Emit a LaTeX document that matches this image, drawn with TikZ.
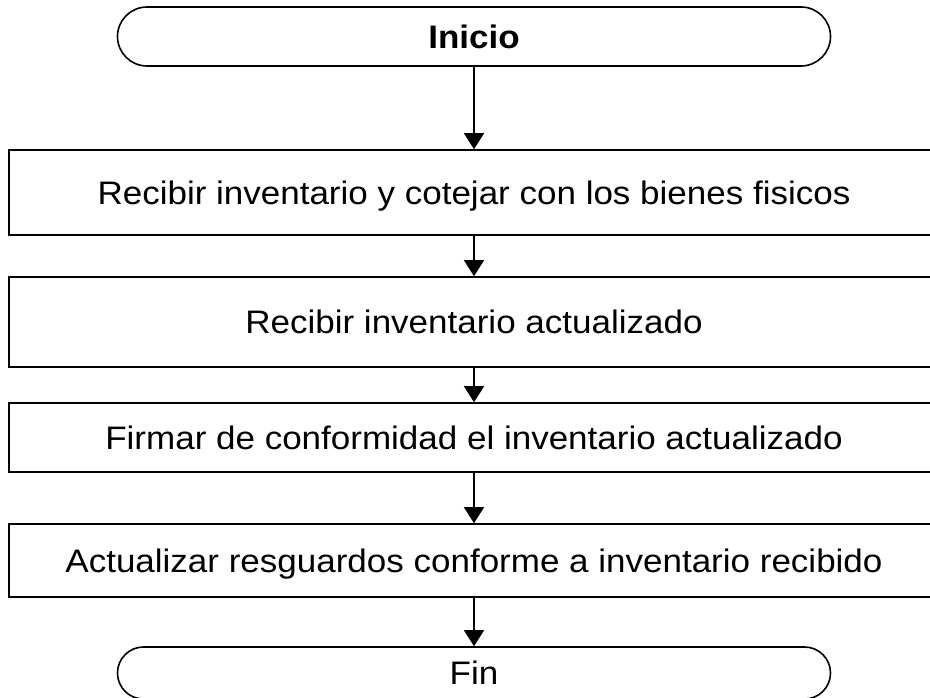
\documentclass[tikz,border=0pt]{standalone}
\usepackage{fontspec}
\usepackage{graphicx}
\setmainfont{Liberation Sans}
\usetikzlibrary{arrows.meta,shapes.misc}
\newcommand\sqz[1]{\scalebox{1}[0.93]{#1}}
\begin{document}
\begin{tikzpicture}[x=0.5bp,y=-0.5bp,
  every node/.style={font=\fontsize{17.5bp}{21bp}\selectfont},
  stepbox/.style={draw=black,line width=0.8bp,rectangle,minimum width=465bp,inner sep=0pt,text height=11.6bp,text depth=0pt},
  term/.style={draw=black,line width=0.8bp,rounded rectangle,minimum width=356.5bp,inner sep=0pt,text height=11.6bp,text depth=0pt},
  arr/.style={-{Triangle[length=8bp,width=10bp]},line width=0.8bp}]
\useasboundingbox (0,0) rectangle (930,698);
\clip (0,0) rectangle (930,698);
\fill[white] (0,0) rectangle (930,698);
\node[term, minimum height=29.5bp] (ini) at (474,36.5) {\sqz{\bfseries Inicio}};
\node[stepbox, minimum height=42.5bp] (b1) at (474,192.5) {\sqz{Recibir inventario y cotejar con los bienes fisicos}};
\node[stepbox, minimum height=45bp] (b2) at (474,322) {\sqz{Recibir inventario actualizado}};
\node[stepbox, minimum height=34.5bp] (b3) at (474,437.5) {\sqz{Firmar de conformidad el inventario actualizado}};
\node[stepbox, minimum height=36.5bp] (b4) at (474,560.5) {\sqz{Actualizar resguardos conforme a inventario recibido}};
\node[term, minimum height=26bp] (fin) at (474,673) {\sqz{Fin}};
\draw[arr] (ini) -- (b1);
\draw[arr] (b1) -- (b2);
\draw[arr] (b2) -- (b3);
\draw[arr] (b3) -- (b4);
\draw[arr] (b4) -- (fin);
\end{tikzpicture}
\end{document}
